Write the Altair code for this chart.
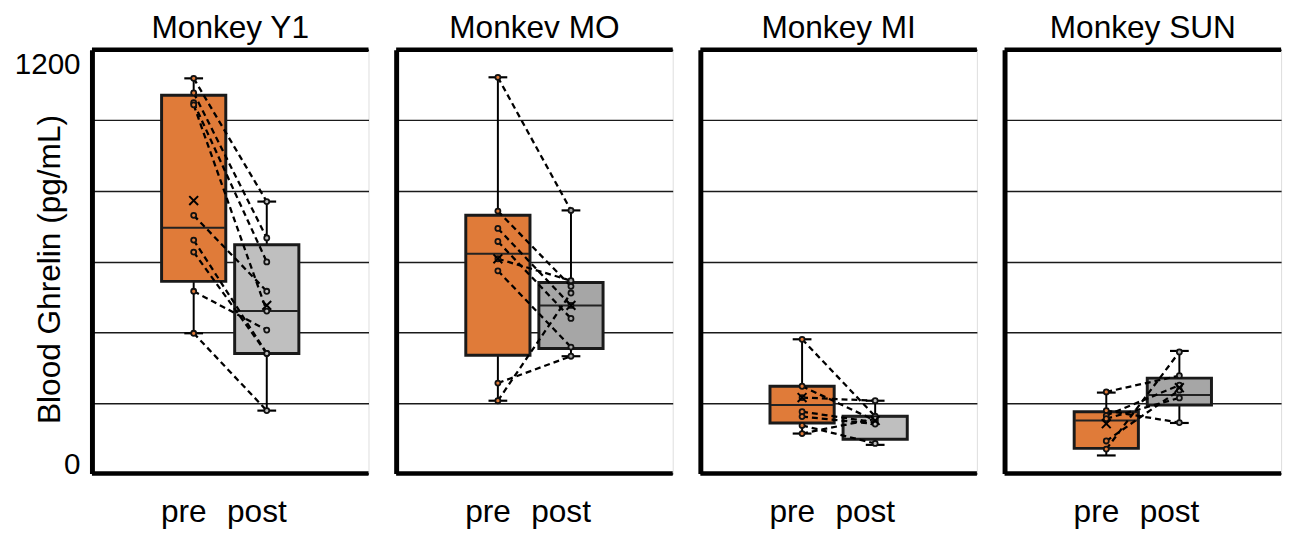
import altair as alt
import pandas as pd

# ---------------- data ----------------
panels = ["Monkey Y1", "Monkev MO", "Monkey MI", "Monkey SUN"]
conds = ["pre", "post"]
pre_fill = "#E07B39"
post_fill = ["#BFBFBF", "#A6A6A6", "#BFBFBF", "#A6A6A6"]

# box statistics per panel (pg/mL)
pre_lo = [397, 206, 113, 51]
pre_q1 = [544, 335, 143, 71]
pre_med = [696, 622, 194, 150]
pre_q3 = [1071, 731, 247, 175]
pre_hi = [1119, 1122, 380, 229]
pre_mean = [773, 608, 215, 141]

post_lo = [178, 332, 81, 143]
post_q1 = [340, 354, 97, 194]
post_med = [460, 476, 162, 222]
post_q3 = [648, 541, 162, 270]
post_hi = [770, 745, 206, 347]
post_mean = [476, 476, 150, 243]

# paired individual values (same index = same sample)
pre_points = [
    [1119, 1078, 1050, 1044, 731, 661, 627, 516, 397],
    [1122, 743, 694, 657, 608, 574, 256, 206],
    [380, 247, 215, 175, 161, 136, 113],
    [231, 178, 164, 155, 92, 69],
]
post_points = [
    [770, 667, 599, 460, 516, 340, 340, 406, 178],
    [745, 530, 476, 439, 546, 358, 332, 511],
    [162, 150, 206, 145, 140, 85, 155],
    [277, 144, 250, 214, 236, 344],
]

y_ticks = [0, 200, 400, 600, 800, 1000, 1200]

FONT = "Liberation Sans"


def panel(i):
    box = pd.DataFrame({
        "cond": conds,
        "lo": [pre_lo[i], post_lo[i]],
        "q1": [pre_q1[i], post_q1[i]],
        "med": [pre_med[i], post_med[i]],
        "q3": [pre_q3[i], post_q3[i]],
        "hi": [pre_hi[i], post_hi[i]],
        "mean": [pre_mean[i], post_mean[i]],
        "fill": [pre_fill, post_fill[i]],
    })
    rows = []
    for k, (a, b) in enumerate(zip(pre_points[i], post_points[i])):
        rows.append({"sid": k, "cond": "pre", "ord": 0, "v": a, "fill": pre_fill})
        rows.append({"sid": k, "cond": "post", "ord": 1, "v": b, "fill": post_fill[i]})
    pts = pd.DataFrame(rows)

    first = i == 0
    xenc = alt.X(
        "cond:N",
        sort=conds,
        scale=alt.Scale(type="band", domain=conds, paddingInner=0.1, paddingOuter=0.942),
        axis=alt.Axis(
            title=None, labelAngle=0, ticks=False, domain=False,
            labelFontSize=32, labelFont=FONT, labelColor="black",
            labelPadding=24, labelOffset=-10,
        ),
    )
    yscale = alt.Scale(domain=[0, 1200], nice=False, zero=True)
    yaxis = alt.Axis(
        values=y_ticks,
        format="d",
        grid=True, gridColor="#1a1a1a", gridWidth=1.5,
        domain=True, domainColor="black", domainWidth=5,
        ticks=False,
        labels=first,
        labelExpr="datum.value == 0 || datum.value == 1200 ? datum.label : ''",
        labelBaseline=alt.condition("datum.value == 0", alt.value("alphabetic"), alt.value("top")),
        labelFontSize=30, labelFont=FONT, labelColor="black", labelPadding=12,
        title="Blood Ghrelin (pg/mL)" if first else None,
        titleFontSize=32, titleFont=FONT, titleFontWeight="normal", titleColor="black",
        titleX=-26, titleY=222,
    )

    def Y(field):
        return alt.Y(f"{field}:Q", scale=yscale, axis=yaxis)

    base_box = alt.Chart(box)
    base_pts = alt.Chart(pts)

    whisker = base_box.mark_rule(color="black", strokeWidth=2).encode(
        x=xenc, y=Y("lo"), y2="hi")
    cap_lo = base_box.mark_tick(color="black", size=19, thickness=2.2, opacity=1).encode(
        x=xenc, y=Y("lo"))
    cap_hi = base_box.mark_tick(color="black", size=19, thickness=2.2, opacity=1).encode(
        x=xenc, y=Y("hi"))
    boxes = base_box.mark_bar(size=65, stroke="#1a1a1a", strokeWidth=3).encode(
        x=xenc, y=Y("q1"), y2="q3", fill=alt.Fill("fill:N", scale=None))
    median = base_box.mark_tick(color="#222", size=63, thickness=2, opacity=1).encode(
        x=xenc, y=Y("med"))
    lines = base_pts.mark_line(color="black", strokeWidth=2.3, strokeDash=[6, 4]).encode(
        x=xenc, y=Y("v"), detail="sid:N", order="ord:Q")
    dots = base_pts.mark_point(shape="circle", filled=True, size=26, stroke="#111",
                               strokeWidth=1.8, opacity=1).encode(
        x=xenc, y=Y("v"), fill=alt.Fill("fill:N", scale=None))
    mean = base_box.mark_point(shape="M-1,-1L1,1M-1,1L1,-1", filled=False, size=80,
                               color="black", strokeWidth=2, opacity=1).encode(
        x=xenc, y=Y("mean"))
    top = alt.Chart(pd.DataFrame({"b": [1200]})).mark_rule(color="black", strokeWidth=4.5).encode(
        y=alt.Y("b:Q", scale=yscale, axis=yaxis))
    bottom = alt.Chart(pd.DataFrame({"b": [0]})).mark_rule(color="black", strokeWidth=4.5).encode(
        y=alt.Y("b:Q", scale=yscale, axis=yaxis))

    return alt.layer(
        whisker, cap_lo, cap_hi, boxes, median, lines, dots, mean, top, bottom
    ).properties(
        width=280, height=429,
        title=alt.TitleParams(panels[i], fontSize=32, font=FONT, fontWeight="normal",
                              color="black", offset=3),
    )


chart = alt.hconcat(*[panel(i) for i in range(4)], spacing=22).configure_view(
    stroke=None
).configure(background="white").properties(
    padding={"left": 5, "top": 0, "right": 5, "bottom": 0}
)

chart.save("out.html", embed_options={"renderer": "svg", "actions": False})
